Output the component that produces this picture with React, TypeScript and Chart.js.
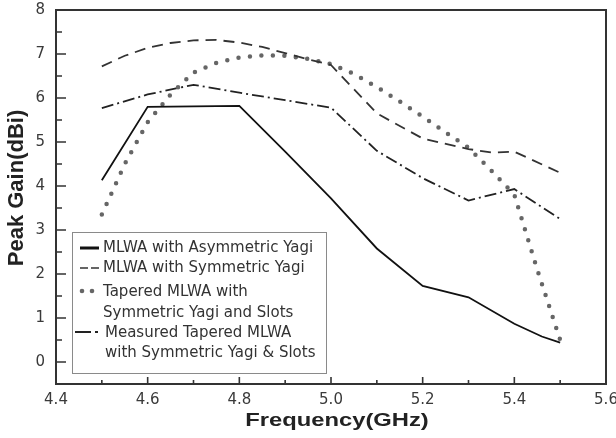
import { useEffect, useRef } from "react";
import { Chart, registerables } from "chart.js";

Chart.register(...registerables);

// ---- data ----
const freqAsym = [4.5, 4.6, 4.8, 4.9, 5.0, 5.1, 5.2, 5.3, 5.4, 5.46, 5.5];
const gainAsym = [4.13, 5.8, 5.82, 4.78, 3.72, 2.58, 1.73, 1.47, 0.87, 0.58, 0.44];

const freqSym = [4.5, 4.55, 4.6, 4.65, 4.7, 4.75, 4.8, 4.85, 4.9, 4.95, 5.0, 5.1, 5.2, 5.3, 5.35, 5.4, 5.5];
const gainSym = [6.72, 6.96, 7.14, 7.25, 7.31, 7.32, 7.26, 7.16, 7.02, 6.88, 6.75, 5.65, 5.08, 4.84, 4.76, 4.78, 4.3];

const freqTaper = [4.5, 4.55, 4.6, 4.65, 4.7, 4.75, 4.8, 4.85, 4.9, 4.95, 5.0, 5.05, 5.1, 5.15, 5.2, 5.25, 5.3, 5.35, 5.4, 5.45, 5.5];
const gainTaper = [3.35, 4.5, 5.45, 6.08, 6.58, 6.8, 6.92, 6.97, 6.96, 6.89, 6.77, 6.55, 6.25, 5.92, 5.58, 5.22, 4.87, 4.35, 3.8, 2.1, 0.5];

const freqMeas = [4.5, 4.6, 4.7, 4.8, 4.9, 5.0, 5.1, 5.2, 5.3, 5.4, 5.5];
const gainMeas = [5.77, 6.08, 6.3, 6.12, 5.95, 5.78, 4.8, 4.18, 3.67, 3.93, 3.25];

const xTickValues = [4.4, 4.6, 4.8, 5.0, 5.2, 5.4, 5.6];
const xMinorValues = [4.5, 4.7, 4.9, 5.1, 5.3, 5.5];
const yTickValues = [0, 1, 2, 3, 4, 5, 6, 7, 8];
const yMinorValues = [0.5, 1.5, 2.5, 3.5, 4.5, 5.5, 6.5, 7.5];

const legendLabels = [
  ["MLWA with Asymmetric Yagi"],
  ["MLWA with Symmetric Yagi"],
  ["Tapered MLWA with", "Symmetric Yagi and Slots"],
  ["Measured Tapered MLWA", "with Symmetric Yagi & Slots"],
];

const xTitle = "Frequency(GHz)";
const yTitle = "Peak Gain(dBi)";

const pts = (xs: number[], ys: number[]) => xs.map((x, i) => ({ x, y: ys[i] }));

const framePlugin = {
  id: "framePlugin",
  afterDatasetsDraw(chart: any) {
    const ctx = chart.ctx as CanvasRenderingContext2D;
    const { left, right, top, bottom } = chart.chartArea;
    const xs = chart.scales.x;
    const ys = chart.scales.y;
    ctx.save();
    // ticks (inward)
    ctx.strokeStyle = "#333";
    ctx.lineWidth = 1.6;
    ctx.beginPath();
    xTickValues.forEach((v) => {
      const px = xs.getPixelForValue(v);
      ctx.moveTo(px, bottom);
      ctx.lineTo(px, bottom - 7);
    });
    xMinorValues.forEach((v) => {
      const px = xs.getPixelForValue(v);
      ctx.moveTo(px, bottom);
      ctx.lineTo(px, bottom - 4);
    });
    yTickValues.forEach((v) => {
      const py = ys.getPixelForValue(v);
      ctx.moveTo(left, py);
      ctx.lineTo(left + 10, py);
    });
    yMinorValues.forEach((v) => {
      const py = ys.getPixelForValue(v);
      ctx.moveTo(left, py);
      ctx.lineTo(left + 6, py);
    });
    ctx.stroke();
    // frame
    ctx.lineWidth = 2;
    ctx.strokeStyle = "#333";
    ctx.strokeRect(left, top, right - left, bottom - top);

    // legend box
    const bx = 72, by = 232, bw = 254, bh = 141;
    ctx.fillStyle = "#fff";
    ctx.fillRect(bx, by, bw, bh);
    ctx.lineWidth = 1;
    ctx.strokeStyle = "#8a8a8a";
    ctx.strokeRect(bx + 0.5, by + 0.5, bw, bh);

    // legend symbols
    ctx.strokeStyle = "#111";
    ctx.lineWidth = 3;
    ctx.beginPath();
    ctx.moveTo(80, 248);
    ctx.lineTo(99, 248);
    ctx.stroke();
    ctx.lineWidth = 1.5;
    ctx.strokeStyle = "#333";
    ctx.beginPath();
    ctx.moveTo(80, 268);
    ctx.lineTo(88, 268);
    ctx.moveTo(91, 268);
    ctx.lineTo(99, 268);
    ctx.stroke();
    ctx.fillStyle = "#666";
    [82, 92].forEach((cx) => {
      ctx.beginPath();
      ctx.arc(cx, 291, 2.3, 0, Math.PI * 2);
      ctx.fill();
    });
    ctx.strokeStyle = "#222";
    ctx.lineWidth = 2;
    ctx.beginPath();
    ctx.moveTo(75, 332);
    ctx.lineTo(91, 332);
    ctx.moveTo(95, 332);
    ctx.lineTo(98, 332);
    ctx.stroke();

    // legend text
    ctx.fillStyle = "#333";
    ctx.font = "15px 'DejaVu Sans'";
    ctx.textAlign = "left";
    ctx.textBaseline = "middle";
    const lineYs = [[248], [268], [292, 313], [333, 353]];
    legendLabels.forEach((lines, i) => {
      lines.forEach((t, j) => {
        ctx.fillText(t, i === 3 ? 105 : 103, lineYs[i][j]);
      });
    });

    // axis titles
    ctx.fillStyle = "#222";
    ctx.font = "bold 18px 'Liberation Sans'";
    ctx.textAlign = "center";
    ctx.textBaseline = "middle";
    ctx.save();
    ctx.translate(337, 421);
    ctx.scale(1.32, 1);
    ctx.fillText(xTitle, 0, 0);
    ctx.restore();

    ctx.save();
    ctx.translate(17, 188);
    ctx.rotate(-Math.PI / 2);
    ctx.font = "bold 22px 'Liberation Sans'";
    ctx.fillText(yTitle, 0, 0);
    ctx.restore();

    ctx.restore();
  },
};

export default function App() {
  const ref = useRef<HTMLCanvasElement | null>(null);
  useEffect(() => {
    document.body.style.margin = "0";
    const canvas = ref.current;
    if (!canvas) return;
    const tickFont = { family: "'DejaVu Sans'", size: 15 };
    const chart = new Chart(canvas, {
      type: "line",
      data: {
        datasets: [
          {
            label: legendLabels[0].join(" "),
            data: pts(freqAsym, gainAsym),
            borderColor: "#111",
            borderWidth: 1.8,
            pointRadius: 0,
            tension: 0,
            fill: false,
          },
          {
            label: legendLabels[1].join(" "),
            data: pts(freqSym, gainSym),
            borderColor: "#333",
            borderWidth: 1.8,
            borderDash: [11, 7],
            pointRadius: 0,
            tension: 0,
            fill: false,
          },
          {
            label: legendLabels[2].join(" "),
            data: pts(freqTaper, gainTaper),
            borderColor: "#666",
            borderWidth: 4.5,
            borderDash: [0, 11.5],
            borderCapStyle: "round",
            pointRadius: 0,
            tension: 0,
            fill: false,
          },
          {
            label: legendLabels[3].join(" "),
            data: pts(freqMeas, gainMeas),
            borderColor: "#222",
            borderWidth: 1.8,
            borderDash: [12, 4, 2, 4],
            pointRadius: 0,
            tension: 0,
            fill: false,
          },
        ],
      },
      options: {
        animation: false,
        responsive: false,
        layout: { padding: { top: 10, right: 10, left: 0, bottom: 0 } },
        plugins: { legend: { display: false }, tooltip: { enabled: false } },
        scales: {
          x: {
            type: "linear",
            min: 4.4,
            max: 5.6,
            afterBuildTicks: (s: any) => {
              s.ticks = xTickValues.map((v) => ({ value: v }));
            },
            afterFit: (s: any) => {
              s.height = 54;
              s.paddingLeft = 0;
              s.paddingRight = 0;
            },
            ticks: {
              callback: (v: any) => Number(v).toFixed(1),
              font: tickFont,
              color: "#3a3a3a",
              padding: 7,
              maxRotation: 0,
              autoSkip: false,
            },
            grid: { display: false, drawTicks: false },
            border: { display: false },
          },
          y: {
            type: "linear",
            min: -0.5,
            max: 8,
            afterBuildTicks: (s: any) => {
              s.ticks = yTickValues.map((v) => ({ value: v }));
            },
            afterFit: (s: any) => {
              s.width = 56;
              s.paddingTop = 0;
              s.paddingBottom = 0;
            },
            ticks: {
              callback: (v: any) => String(v),
              font: tickFont,
              color: "#3a3a3a",
              padding: 11,
            },
            grid: { display: false, drawTicks: false },
            border: { display: false },
          },
        },
      },
      plugins: [framePlugin],
    });
    return () => chart.destroy();
  }, []);
  return <canvas ref={ref} width={616} height={438} />;
}
